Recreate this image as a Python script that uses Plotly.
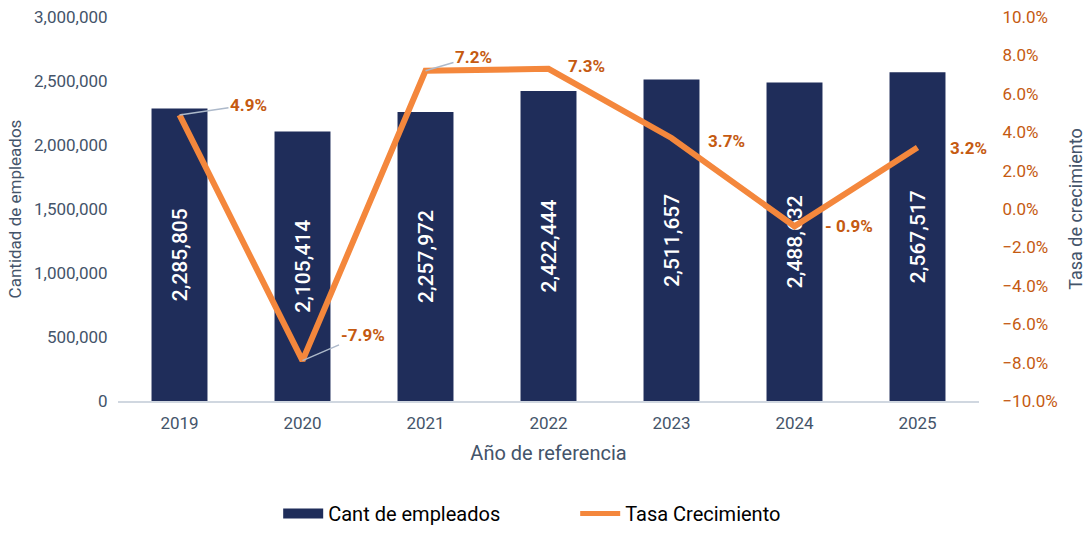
import plotly.graph_objects as go

years = ["2019", "2020", "2021", "2022", "2023", "2024", "2025"]
empleados = [2285805, 2105414, 2257972, 2422444, 2511657, 2488632, 2567517]
tasa = [0.049, -0.079, 0.072, 0.073, 0.037, -0.009, 0.032]
tasa_labels = ["4.9%", "-7.9%", "7.2%", "7.3%", "3.7%", "- 0.9%", "3.2%"]

NAVY = "#1F2D5A"
ORANGE = "#F4873C"
LBL = "#C55A11"
GRAY = "#44546A"
FONT = "Roboto"

fig = go.Figure()
fig.add_trace(go.Bar(
    x=years, y=empleados, name="Cant de empleados", marker_color=NAVY,
    marker_line_width=0, showlegend=False,
    texttemplate="%{y:,}", textposition="inside", insidetextanchor="middle",
    textangle=-90, textfont=dict(color="white", size=21, family=FONT, weight=500),
    hoverinfo="skip"))
fig.add_trace(go.Scatter(
    x=years, y=tasa, yaxis="y2", mode="lines", name="Tasa Crecimiento",
    line=dict(color=ORANGE, width=6), showlegend=False, hoverinfo="skip"))
# legend proxies
fig.add_trace(go.Scatter(x=[years[0]], y=[None], mode="lines", name="Cant de empleados",
                         line=dict(color=NAVY, width=10)))
fig.add_trace(go.Scatter(x=[years[0]], y=[None], mode="lines", name="Tasa Crecimiento",
                         line=dict(color=ORANGE, width=5), yaxis="y2"))

# label offsets (pixels) and whether a leader line is drawn
offsets = [(69, -10, True), (60, -26, True), (48, -14, True), (38, -3, False),
           (55, 3, False), (54, 0, False), (51, 0, False)]
for i, (v, t, (dx, dy, lead)) in enumerate(zip(tasa, tasa_labels, offsets)):
    if lead:
        fig.add_annotation(x=i, y=v, yref="y2", text=t, showarrow=True,
                           arrowhead=0, arrowwidth=1.5, arrowcolor="#ADB9CA",
                           ax=dx, ay=dy, standoff=0,
                           font=dict(color=LBL, size=17, family=FONT, weight="bold"))
    else:
        fig.add_annotation(x=i, y=v, yref="y2", text=t, showarrow=False,
                           xshift=dx, yshift=-dy,
                           font=dict(color=LBL, size=17, family=FONT, weight="bold"))

fig.update_layout(
    width=1086, height=533,
    margin=dict(l=118, r=107, t=17, b=132, autoexpand=False),
    plot_bgcolor="white", paper_bgcolor="white",
    font=dict(family=FONT, color=GRAY),
    bargap=0.545,
    xaxis=dict(type="category", automargin=False, range=[-0.5, len(years) - 0.5],
               title=dict(text="Año de referencia", font=dict(size=20, color=GRAY), standoff=14),
               tickfont=dict(size=17, color=GRAY), showline=True, linecolor="#D0D7E0",
               linewidth=1.5, ticks="outside", ticklen=6, tickcolor="rgba(0,0,0,0)",
               showgrid=False),
    yaxis=dict(title=dict(text="Cantidad de empleados", font=dict(size=17, color=GRAY), standoff=8),
               automargin=False,
               range=[0, 3000000], dtick=500000, tickformat=",",
               tickfont=dict(size=17, color=GRAY), showgrid=False, zeroline=False,
               ticks="outside", ticklen=6, tickcolor="rgba(0,0,0,0)"),
    yaxis2=dict(title=dict(text="Tasa de crecimiento", font=dict(size=18, color=GRAY), standoff=20),
                automargin=False,
                overlaying="y", side="right", range=[-0.10, 0.10], dtick=0.02,
                tickformat=".1%", tickfont=dict(size=17, color=LBL),
                showgrid=False, zeroline=False,
                ticks="outside", ticklen=19, tickcolor="rgba(0,0,0,0)"),
    legend=dict(orientation="h", x=0.531, xanchor="center", yref="container",
                y=0.0, yanchor="bottom", borderwidth=0,
                font=dict(size=20, color="#000000"), itemwidth=40,
                entrywidthmode="pixels", entrywidth=242),
)

fig.write_html("out.html", config={"displayModeBar": False},
               post_script="document.body.style.margin='0';")
